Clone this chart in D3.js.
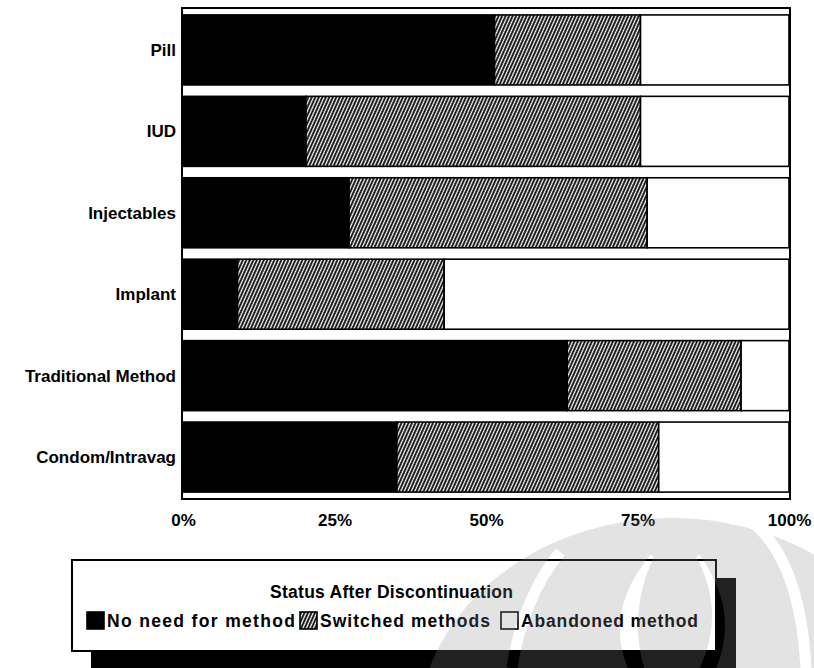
<!DOCTYPE html>
<html>

<head>
    <meta charset="utf-8">

    <!-- Load d3.js -->
    <script src="https://d3js.org/d3.v7.min.js"></script>
    <style type="text/css">
        body {
            margin: 0;
            background: #fff;
        }

        .label {
            font-size: 17px;
            font-weight: bold;
            font-family: "Liberation Sans", Arial, sans-serif;
        }

        .tick text {
            font-size: 17px;
            font-weight: bold;
            font-family: "Liberation Sans", Arial, sans-serif;
        }

        .legend {
            font-size: 17.5px;
            font-weight: bold;
            font-family: "Liberation Sans", Arial, sans-serif;
        }
    </style>
</head>

<body>

    <div id="my_dataviz"></div>

    <script>

        // data (percent of discontinuers)
        const categories = ["Pill", "IUD", "Injectables", "Implant", "Traditional Method", "Condom/Intravag"];
        const noNeed = [51.4, 20.3, 27.4, 9.0, 63.4, 35.3];
        const switched = [24.1, 55.2, 49.2, 34.1, 28.7, 43.2];
        const abandoned = [24.5, 24.5, 23.4, 56.9, 7.9, 21.5];
        const tickValues = [0, 25, 50, 75, 100];
        const tickLabels = ["0%", "25%", "50%", "75%", "100%"];
        const legendTitle = "Status After Discontinuation";
        const legendLabels = ["No need for method", "Switched methods", "Abandoned method"];

        const keys = ["noNeed", "switched", "abandoned"];
        const rows = categories.map((c, i) => ({
            cat: c, noNeed: noNeed[i], switched: switched[i], abandoned: abandoned[i]
        }));

        const W = 814, H = 668;
        const margin = { top: 8, right: 25, bottom: 169, left: 183 };

        const svg = d3.select("#my_dataviz")
            .append("svg")
            .attr("width", W)
            .attr("height", H);

        const defs = svg.append("defs");

        // dense diagonal hatching like the scan
        const pat = defs.append("pattern")
            .attr("id", "hatch")
            .attr("patternUnits", "userSpaceOnUse")
            .attr("width", 3.2)
            .attr("height", 10)
            .attr("patternTransform", "rotate(24)");
        pat.append("rect").attr("width", 3.2).attr("height", 10).attr("fill", "white");
        pat.append("line")
            .attr("x1", 1.2).attr("x2", 1.2)
            .attr("y1", 0).attr("y2", 10)
            .attr("stroke", "black")
            .attr("stroke-width", 1.8);

        const fills = { noNeed: "black", switched: "url(#hatch)", abandoned: "white" };

        const x = d3.scaleLinear()
            .domain([0, 100])
            .range([margin.left, W - margin.right]);

        const y = d3.scaleBand()
            .domain(categories)
            .range([margin.top, H - margin.bottom])
            .paddingInner(0.14)
            .paddingOuter(0.085);

        const series = d3.stack().keys(keys)(rows);

        // bars
        svg.append("g")
            .selectAll("g")
            .data(series)
            .join("g")
            .attr("fill", d => fills[d.key])
            .selectAll("rect")
            .data(d => d)
            .join("rect")
            .attr("x", d => x(d[0]))
            .attr("y", d => y(d.data.cat))
            .attr("width", d => x(d[1]) - x(d[0]))
            .attr("height", y.bandwidth())
            .attr("stroke", "black")
            .attr("stroke-width", 1.6);

        // outer frame
        svg.append("rect")
            .attr("x", x(0) - 1)
            .attr("y", margin.top)
            .attr("width", x(100) - x(0) + 2)
            .attr("height", H - margin.bottom - margin.top)
            .attr("fill", "none")
            .attr("stroke", "black")
            .attr("stroke-width", 2);

        // category labels
        svg.append("g")
            .selectAll("text")
            .data(categories)
            .join("text")
            .attr("class", "label")
            .attr("text-anchor", "end")
            .attr("x", x(0) - 7)
            .attr("y", d => y(d) + y.bandwidth() / 2)
            .attr("dy", "0.35em")
            .text(d => d);

        // x axis labels
        const xAxis = svg.append("g")
            .attr("transform", `translate(0, ${H - margin.bottom + 15})`)
            .call(d3.axisBottom(x)
                .tickValues(tickValues)
                .tickFormat((d, i) => tickLabels[i])
                .tickSize(0)
                .tickPadding(0));
        xAxis.select(".domain").remove();
        xAxis.selectAll(".tick text").attr("fill", "black");

        // legend with drop shadow
        const lg = svg.append("g");
        lg.append("rect")
            .attr("x", 91).attr("y", 578)
            .attr("width", 645).attr("height", 100)
            .attr("fill", "black");
        lg.append("rect")
            .attr("x", 72).attr("y", 560)
            .attr("width", 644).attr("height", 91)
            .attr("fill", "white")
            .attr("stroke", "black")
            .attr("stroke-width", 2);
        lg.append("text")
            .attr("class", "legend")
            .attr("x", 270).attr("y", 598)
            .attr("textLength", 243)
            .attr("lengthAdjust", "spacing")
            .text(legendTitle);

        const itemX = [87, 300, 501];
        const textLen = [188, 170, 177];
        const item = lg.selectAll(".item")
            .data(keys)
            .join("g")
            .attr("class", "item")
            .attr("transform", (d, i) => `translate(${itemX[i]}, 612)`);
        item.append("rect")
            .attr("width", 17).attr("height", 17)
            .attr("fill", d => fills[d])
            .attr("stroke", "black")
            .attr("stroke-width", 1.6);
        item.append("text")
            .attr("class", "legend")
            .attr("x", 20).attr("y", 15)
            .attr("textLength", (d, i) => textLen[i])
            .attr("lengthAdjust", "spacing")
            .text((d, i) => legendLabels[i]);

        // faint watermark emblem in the lower right, laid over everything
        const mask = defs.append("mask").attr("id", "wm");
        mask.append("ellipse")
            .attr("cx", 672).attr("cy", 735)
            .attr("rx", 255).attr("ry", 217)
            .attr("fill", "white");
        mask.append("path")
            .attr("d", "M560,552 Q522,600 512,668")
            .attr("fill", "none").attr("stroke", "black").attr("stroke-width", 11);
        mask.append("path")
            .attr("d", "M652,556 Q606,612 630,668 L642,668 Q626,612 652,556 Z")
            .attr("fill", "black").attr("stroke", "black").attr("stroke-width", 4);
        mask.append("path")
            .attr("d", "M698,556 Q728,612 702,668 L714,668 Q738,612 698,556 Z")
            .attr("fill", "black").attr("stroke", "black").attr("stroke-width", 4);
        mask.append("path")
            .attr("d", "M752,522 Q800,560 806,668")
            .attr("fill", "none").attr("stroke", "black").attr("stroke-width", 11);
        svg.append("rect")
            .attr("x", 400).attr("y", 500)
            .attr("width", 414).attr("height", 168)
            .attr("fill", "rgb(136,136,136)")
            .attr("fill-opacity", 0.24)
            .attr("mask", "url(#wm)");

    </script>

</body>

</html>
